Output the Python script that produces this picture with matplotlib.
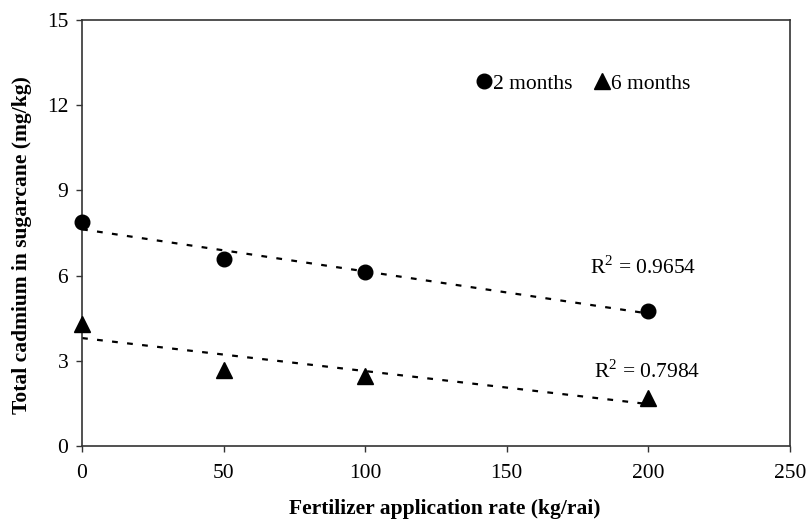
import matplotlib.pyplot as plt
import numpy as np

plt.rcParams["font.family"] = ["Liberation Serif", "DejaVu Serif"]
plt.rcParams["mathtext.fontset"] = "custom"
plt.rcParams["mathtext.rm"] = "Liberation Serif"

rate = [0, 50, 100, 200]
cd_2_months = [7.87, 6.58, 6.13, 4.75]
cd_6_months = [4.28, 2.69, 2.47, 1.69]
r2_2_months = "0.9654"
r2_6_months = "0.7984"

fs = 15.5

fig = plt.figure(figsize=(8.09, 5.32), dpi=100)
ax = fig.add_axes([0.1014, 0.1617, 0.875, 0.8007])

# scatter points
ax.plot(rate, cd_2_months, "o", color="black", markersize=10.5, clip_on=False, zorder=3, label="2 months")
ax.plot(rate, cd_6_months, "^", color="black", markersize=11, clip_on=False, zorder=3, label="6 months")

# linear trendlines
xs = np.array([0, 200])
for ys in (cd_2_months, cd_6_months):
    m, b = np.polyfit(rate, ys, 1)
    ax.plot(xs, m * xs + b, color="black", lw=1.6, linestyle=(0, (2.6, 4.2)), zorder=2)

ax.text(198, 6.3, r"R$^2$ = " + r2_2_months, ha="center", va="center", fontsize=fs)
ax.text(199.5, 2.64, r"R$^2$ = " + r2_6_months, ha="center", va="center", fontsize=fs)

ax.set_xlim(0, 250)
ax.set_ylim(0, 15)
ax.set_xticks([0, 50, 100, 150, 200, 250])
ax.set_yticks([0, 3, 6, 9, 12, 15])
ax.tick_params(labelsize=fs, length=4, width=1, color="#333333", direction="out")
ax.tick_params(axis="x", pad=9)
ax.tick_params(axis="y", pad=6)
for s in ax.spines.values():
    s.set_color("#333333")
    s.set_linewidth(1.2)

ax.set_xlabel("Fertilizer application rate (kg/rai)", fontsize=fs, fontweight="bold")
ax.set_ylabel("Total cadmium in sugarcane (mg/kg)", fontsize=fs, fontweight="bold")
ax.xaxis.set_label_coords(0.513, -0.125)
ax.yaxis.set_label_coords(-0.071, 0.472)

ax.legend(loc="center", bbox_to_anchor=(0.706, 0.85), ncol=2, frameon=False, fontsize=fs,
          handletextpad=-0.1, columnspacing=0.9, handlelength=1.0, numpoints=1)

plt.savefig("out.png", dpi=100)
